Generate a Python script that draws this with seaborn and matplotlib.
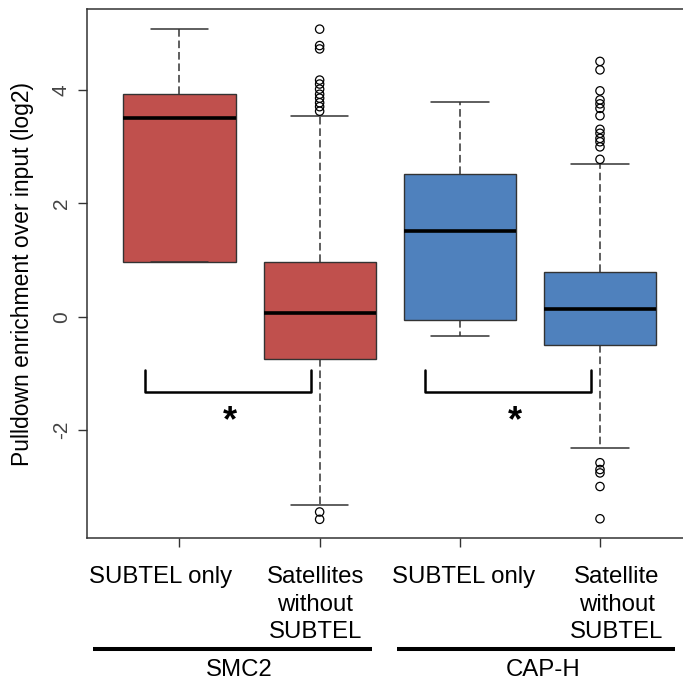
import numpy as np
import pandas as pd
import matplotlib
matplotlib.use("Agg")
import matplotlib.pyplot as plt
import matplotlib.transforms as mtransforms
import seaborn as sns

# Summary statistics of log2 pulldown/input enrichment, one entry per box
groups = ["SMC2", "SMC2", "CAP-H", "CAP-H"]
categories = ["SUBTEL only", "Satellites\nwithout\nSUBTEL",
              "SUBTEL only", "Satellite\nwithout\nSUBTEL"]
box_colors = ["#C0504D", "#C0504D", "#4F81BD", "#4F81BD"]
whisker_low = [0.97, -3.33, -0.34, -2.32]
q1 = [0.97, -0.75, -0.05, -0.50]
medians = [3.51, 0.07, 1.51, 0.13]
q3 = [3.93, 0.97, 2.52, 0.79]
whisker_high = [5.09, 3.55, 3.80, 2.69]

# Points beyond the whiskers
smc2_subtel_outliers = []
smc2_satellite_outliers = [5.08, 4.79, 4.73, 4.18, 4.11, 4.02, 3.93, 3.86, 3.78,
                           3.71, 3.63, -3.45, -3.58]
caph_subtel_outliers = []
caph_satellite_outliers = [4.51, 4.36, 3.99, 3.83, 3.76, 3.68, 3.55, 3.31, 3.24,
                           3.15, 3.09, 3.00, 2.78, -2.58, -2.70, -2.76, -3.00, -3.57]
outlier_sets = [smc2_subtel_outliers, smc2_satellite_outliers,
                caph_subtel_outliers, caph_satellite_outliers]

y_ticks = [-2, 0, 2, 4]
y_label = "Pulldown enrichment over input (log2)"

sns.set_theme(style="ticks")
plt.rcParams["font.family"] = ["Liberation Sans", "DejaVu Sans"]

fig = plt.figure(figsize=(6.83, 6.80), dpi=100)
ax = fig.add_axes([0.1269, 0.2088, 0.887, 0.7775])

positions = np.arange(1, len(categories) + 1)
stats = [dict(med=m, q1=a, q3=b, whislo=lo, whishi=hi, fliers=[])
         for m, a, b, lo, hi in zip(medians, q1, q3, whisker_low, whisker_high)]

edge = "#333333"
bp = ax.bxp(stats, positions=positions, widths=0.8, capwidths=0.41,
            patch_artist=True, showfliers=False,
            boxprops=dict(edgecolor=edge, linewidth=1.0),
            medianprops=dict(color="black", linewidth=2.6, solid_capstyle="butt"),
            whiskerprops=dict(color=edge, linewidth=1.1, linestyle=(0, (5, 2.5))),
            capprops=dict(color=edge, linewidth=1.1))
for patch, c in zip(bp["boxes"], box_colors):
    patch.set_facecolor(c)

out_df = pd.DataFrame({
    "position": np.concatenate([[p] * len(o) for p, o in zip(positions, outlier_sets)]),
    "value": np.concatenate([np.asarray(o, dtype=float) for o in outlier_sets]),
})
sns.scatterplot(data=out_df, x="position", y="value", ax=ax, marker="o", s=36,
                facecolor="none", edgecolor="black", linewidth=0.9,
                legend=False, zorder=4)

ax.set_xlim(0.338, 4.66)
ax.set_ylim(-3.91, 5.43)
ax.set_xlabel("")
ax.set_ylabel(y_label, fontsize=16.5, color="black")
ax.yaxis.set_label_coords(-0.087, 0.5)

ax.set_yticks(y_ticks)
ax.set_yticklabels([str(t) for t in y_ticks])
ax.set_xticks(positions)
ax.set_xticklabels(categories, linespacing=1.3)
ax.tick_params(axis="both", direction="out", length=6.5, width=1.0, color=edge)
ax.tick_params(axis="y", labelrotation=90, pad=5, labelsize=15, labelcolor="#444444")
ax.tick_params(axis="x", pad=14, labelsize=17.3, labelcolor="black")
for lab in ax.get_yticklabels():
    lab.set_va("center")

# nudge the category labels sideways
shifts_px = [-19, -4.5, 3.5, 17]
for lab, dx in zip(ax.get_xticklabels(), shifts_px):
    lab.set_transform(lab.get_transform() +
                      mtransforms.ScaledTranslation(dx / 100, 0, fig.dpi_scale_trans))

for s in ax.spines.values():
    s.set_color(edge)
    s.set_linewidth(1.1)

# significance brackets
for x0, x1, xs in [(0.754, 1.938, 1.36), (2.751, 3.934, 3.394)]:
    ax.plot([x0, x0, x1, x1], [-0.94, -1.33, -1.33, -0.94], color="black",
            lw=1.8, solid_joinstyle="round", solid_capstyle="round", zorder=3)
    ax.text(xs, -2.02, "*", ha="center", va="baseline", fontsize=26,
            fontweight="bold", color="black")

# protein group underlines and names
for (x0, x1), name in zip([(0.383, 2.373), (2.552, 4.535)], ["SMC2", "CAP-H"]):
    ax.plot([x0, x1], [-5.876, -5.876], color="black", lw=2.9,
            solid_capstyle="butt", clip_on=False)
    ax.text((x0 + x1) / 2 + 0.05, -6.35, name, ha="center", va="baseline",
            fontsize=17.3, color="black", clip_on=False)

fig.savefig("out.png", dpi=100, facecolor="white")
